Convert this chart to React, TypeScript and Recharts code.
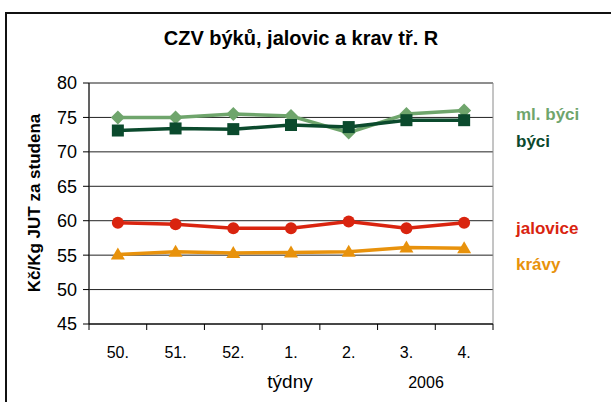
import React from 'react';
import { LineChart, Line, XAxis, YAxis, CartesianGrid, ReferenceArea } from 'recharts';

const weeks = ['50.', '51.', '52.', '1.', '2.', '3.', '4.'];
const mlByci = [75.0, 75.0, 75.5, 75.2, 72.8, 75.5, 76.0];
const byci = [73.1, 73.4, 73.3, 73.9, 73.6, 74.6, 74.6];
const jalovice = [59.7, 59.5, 58.9, 58.9, 59.9, 58.9, 59.7];
const kravy = [55.1, 55.5, 55.3, 55.4, 55.5, 56.1, 56.0];
const yTicks = [45, 50, 55, 60, 65, 70, 75, 80];

const seriesNames = ['ml. býci', 'býci', 'jalovice', 'krávy'];
const title = 'CZV býků, jalovic a krav tř. R';
const yTitle = 'Kč/Kg JUT za studena';
const xTitle = 'týdny';
const yearLabel = '2006';

const data = weeks.map((w, i) => ({
  week: w,
  mlByci: mlByci[i],
  byci: byci[i],
  jalovice: jalovice[i],
  kravy: kravy[i],
}));

const FONT = '"Liberation Sans", Arial, sans-serif';
const C_ML = '#6FA56C';
const C_BY = '#0B4A2D';
const C_JA = '#D9240F';
const C_KR = '#E8920C';

const Diamond = (props: any) => {
  const { cx, cy } = props;
  if (cx == null || cy == null) return null;
  const r = 7;
  return <polygon points={`${cx},${cy - r} ${cx + r},${cy} ${cx},${cy + r} ${cx - r},${cy}`} fill={C_ML} />;
};
const Square = (props: any) => {
  const { cx, cy } = props;
  if (cx == null || cy == null) return null;
  const r = 6;
  return <rect x={cx - r} y={cy - r} width={2 * r} height={2 * r} fill={C_BY} />;
};
const Circle = (props: any) => {
  const { cx, cy } = props;
  if (cx == null || cy == null) return null;
  return <circle cx={cx} cy={cy} r={6} fill={C_JA} />;
};
const Triangle = (props: any) => {
  const { cx, cy } = props;
  if (cx == null || cy == null) return null;
  const r = 7;
  return <polygon points={`${cx},${cy - r} ${cx + r},${cy + 5} ${cx - r},${cy + 5}`} fill={C_KR} />;
};

const XTick = (props: any) => {
  const { x, y, payload, index } = props;
  const off = payload && payload.offset != null ? payload.offset : 0;
  const isLast = index === weeks.length - 1;
  return (
    <g>
      <line x1={x - off} x2={x - off} y1={y} y2={y + 6} stroke="#000" strokeWidth={1} />
      {isLast && <line x1={x + off} x2={x + off} y1={y} y2={y + 6} stroke="#000" strokeWidth={1} />}
      <text x={x} y={y + 34} textAnchor="middle" fontSize={16} fontFamily={FONT} fill="#000">
        {payload.value}
      </text>
    </g>
  );
};

const labelStyle = (color: string, top: number): React.CSSProperties => ({
  position: 'absolute',
  left: 516,
  top,
  color,
  fontFamily: FONT,
  fontWeight: 'bold',
  fontSize: 17,
  whiteSpace: 'nowrap',
  lineHeight: '20px',
});

export default function App() {
  return (
    <div style={{ position: 'absolute', left: 0, top: 0, width: 611, height: 402, overflow: 'hidden', background: '#fff' }}>
      <div style={{ position: 'absolute', left: 5, top: 12, width: 700, height: 500, border: '2px solid #111' }} />
      <div
        style={{
          position: 'absolute',
          left: 301,
          top: 27,
          transform: 'translateX(-50%)',
          fontFamily: FONT,
          fontWeight: 'bold',
          fontSize: 20,
          lineHeight: '23px',
          color: '#000',
          whiteSpace: 'nowrap',
        }}
      >
        {title}
      </div>
      <div
        style={{
          position: 'absolute',
          left: 35,
          top: 203,
          transform: 'translate(-50%, -50%) rotate(-90deg)',
          fontFamily: FONT,
          fontWeight: 'bold',
          fontSize: 17,
          whiteSpace: 'nowrap',
          color: '#000',
        }}
      >
        {yTitle}
      </div>
      <div style={{ position: 'absolute', left: 290, top: 371, lineHeight: '22px', transform: 'translateX(-50%)', fontFamily: FONT, fontSize: 19, color: '#000' }}>
        {xTitle}
      </div>
      <div style={{ position: 'absolute', left: 426, top: 373, lineHeight: '20px', transform: 'translateX(-50%)', fontFamily: FONT, fontSize: 16, color: '#000' }}>
        {yearLabel}
      </div>
      <div style={labelStyle(C_ML, 105)}>{seriesNames[0]}</div>
      <div style={labelStyle(C_BY, 132)}>{seriesNames[1]}</div>
      <div style={labelStyle(C_JA, 219)}>{seriesNames[2]}</div>
      <div style={labelStyle(C_KR, 255)}>{seriesNames[3]}</div>
      <div style={{ position: 'absolute', left: 0, top: 0 }}>
        <LineChart width={611} height={402} data={data} margin={{ top: 83, right: 118, bottom: 0, left: 0 }}>
          <CartesianGrid vertical={false} stroke="#222" strokeWidth={1} />
          <ReferenceArea y1={45} y2={80} stroke="#8a8a8a" strokeWidth={1} fill="none" fillOpacity={0} ifOverflow="extendDomain" />
          <XAxis
            dataKey="week"
            scale="band"
            interval={0}
            tickLine={false}
            tickSize={0}
            tickMargin={0}
            axisLine={{ stroke: '#000', strokeWidth: 1 }}
            tick={<XTick />}
            height={78}
          />
          <YAxis
            domain={[45, 80]}
            ticks={yTicks}
            interval={0}
            width={89}
            tickSize={6}
            tickMargin={6}
            tickLine={{ stroke: '#000' }}
            axisLine={{ stroke: '#000', strokeWidth: 1 }}
            tick={{ fill: '#000', fontSize: 18, fontFamily: FONT }}
          />
          <Line dataKey="mlByci" stroke={C_ML} strokeWidth={3.5} dot={<Diamond />} isAnimationActive={false} />
          <Line dataKey="byci" stroke={C_BY} strokeWidth={3.5} dot={<Square />} isAnimationActive={false} />
          <Line dataKey="jalovice" stroke={C_JA} strokeWidth={3.5} dot={<Circle />} isAnimationActive={false} />
          <Line dataKey="kravy" stroke={C_KR} strokeWidth={3.5} dot={<Triangle />} isAnimationActive={false} />
        </LineChart>
      </div>
    </div>
  );
}
